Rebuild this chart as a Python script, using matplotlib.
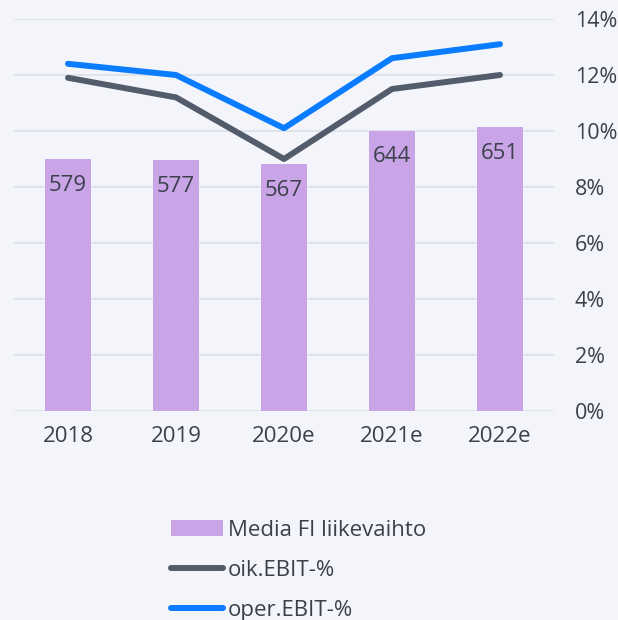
import numpy as np
import matplotlib.pyplot as plt
from matplotlib.ticker import FuncFormatter

years = ['2018', '2019', '2020e', '2021e', '2022e']
revenue = [579, 577, 567, 644, 651]          # Media FI liikevaihto
oik_ebit = [11.9, 11.2, 9.0, 11.5, 12.0]     # oik.EBIT-%
oper_ebit = [12.4, 12.0, 10.1, 12.6, 13.1]   # oper.EBIT-%

bg = '#f3f5fa'
txt = '#3b404b'
bar_col = '#c9a5e8'
grey_col = '#525c6b'
blue_col = '#0a7cff'

plt.rcParams['font.family'] = ['Open Sans', 'DejaVu Sans']
fs = 16

fig = plt.figure(figsize=(6.18, 6.2), dpi=100, facecolor=bg)
ax = fig.add_axes([14/618, 1 - 411/620, 540/618, 392/620])
ax.set_facecolor(bg)
x = np.arange(len(years))

bars = ax.bar(x, revenue, width=0.435, color=bar_col, label='Media FI liikevaihto', zorder=2)
for xi, v in zip(x, revenue):
    ax.annotate(str(v), (xi, v), xytext=(0, -19), textcoords='offset points',
                ha='center', va='center', fontsize=fs, color=txt, zorder=3)
ax.set_ylim(0, 900)
ax.set_xlim(-0.5, 4.5)
ax.set_yticks([])
ax.set_xticks(x)
ax.set_xticklabels(years, fontsize=fs, color=txt)
ax.tick_params(axis='x', length=0, pad=11)
for s in ax.spines.values():
    s.set_visible(False)

ax2 = ax.twinx()
ax2.set_zorder(ax.get_zorder() - 1)
ax.patch.set_visible(False)
ax2.set_facecolor(bg)
ax2.set_ylim(0, 14)
ax2.set_yticks(np.arange(0, 15, 2))
ax2.yaxis.set_major_formatter(FuncFormatter(lambda v, p: f'{v:.0f}%'))
ax2.tick_params(axis='y', length=0, pad=15, labelsize=15.5, labelcolor=txt)
ax2.grid(axis='y', color='#dfe2e8', linewidth=1.3)
for s in ax2.spines.values():
    s.set_visible(False)

# lines drawn on the bar axes so they sit above the bars, scaled to percent axis
scale = 900 / 14
l1, = ax.plot(x, np.array(oik_ebit) * scale, color=grey_col, lw=4.3,
              solid_capstyle='round', solid_joinstyle='round', label='oik.EBIT-%', zorder=4)
l2, = ax.plot(x, np.array(oper_ebit) * scale, color=blue_col, lw=4.3,
              solid_capstyle='round', solid_joinstyle='round', label='oper.EBIT-%', zorder=4)

leg = fig.legend(handles=[bars, l1, l2], loc='upper left',
                 bbox_to_anchor=(162/618, 1 - 511/620), frameon=False,
                 fontsize=fs, handlelength=2.35, handletextpad=0.2,
                 labelspacing=0.85, borderaxespad=0)
for t in leg.get_texts():
    t.set_color(txt)

fig.savefig('out.png', dpi=100, facecolor=bg)
